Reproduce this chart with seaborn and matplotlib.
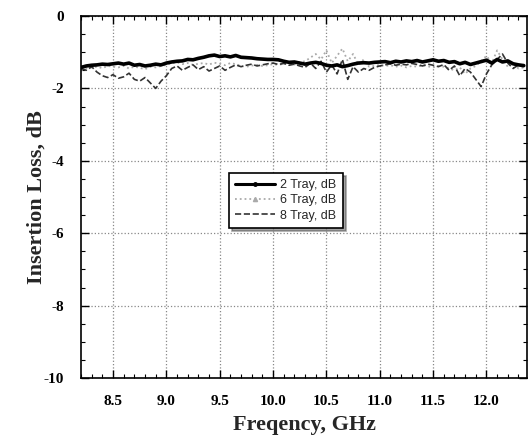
import numpy as np
import pandas as pd
import matplotlib
matplotlib.use("Agg")
import matplotlib.pyplot as plt
from matplotlib.lines import Line2D
from matplotlib.ticker import MultipleLocator
import seaborn as sns

# frequency grid, GHz
freq = np.round(np.arange(8.20, 12.351, 0.05), 2)

tray2 = [-1.42, -1.38, -1.36, -1.35, -1.33, -1.34, -1.32, -1.30, -1.33, -1.30,
         -1.36, -1.34, -1.38, -1.36, -1.33, -1.35, -1.30, -1.27, -1.25, -1.24,
         -1.20, -1.21, -1.17, -1.14, -1.10, -1.08, -1.12, -1.10, -1.13, -1.09,
         -1.14, -1.15, -1.16, -1.18, -1.19, -1.20, -1.20, -1.21, -1.25, -1.28,
         -1.27, -1.30, -1.33, -1.30, -1.28, -1.31, -1.36, -1.38, -1.35, -1.40,
         -1.37, -1.33, -1.30, -1.29, -1.30, -1.28, -1.27, -1.26, -1.29, -1.25,
         -1.27, -1.24, -1.26, -1.23, -1.27, -1.24, -1.21, -1.25, -1.23, -1.28,
         -1.26, -1.32, -1.28, -1.34, -1.30, -1.26, -1.22, -1.30, -1.20, -1.27,
         -1.24, -1.32, -1.35, -1.37]

tray6 = [-1.50, -1.45, -1.42, -1.40, -1.44, -1.38, -1.40, -1.42, -1.38, -1.45,
         -1.40, -1.43, -1.47, -1.40, -1.42, -1.38, -1.35, -1.30, -1.28, -1.33,
         -1.30, -1.35, -1.32, -1.30, -1.34, -1.29, -1.32, -1.36, -1.30, -1.33,
         -1.38, -1.40, -1.37, -1.35, -1.38, -1.36, -1.33, -1.35, -1.32, -1.30,
         -1.34, -1.28, -1.25, -1.15, -1.05, -1.20, -0.95, -1.30, -1.10, -0.90,
         -1.25, -1.05, -1.35, -1.20, -1.40, -1.38, -1.35, -1.38, -1.36, -1.40,
         -1.37, -1.42, -1.38, -1.40, -1.36, -1.39, -1.42, -1.38, -1.40, -1.45,
         -1.50, -1.42, -1.60, -1.45, -1.38, -1.25, -1.10, -1.30, -0.95, -1.20,
         -1.40, -1.30, -1.45, -1.42]

tray8 = [-1.45, -1.50, -1.40, -1.55, -1.65, -1.70, -1.62, -1.72, -1.68, -1.58,
         -1.75, -1.80, -1.70, -1.85, -2.00, -1.80, -1.65, -1.45, -1.38, -1.50,
         -1.42, -1.35, -1.48, -1.40, -1.52, -1.45, -1.38, -1.50, -1.42, -1.35,
         -1.40, -1.36, -1.33, -1.38, -1.35, -1.32, -1.30, -1.34, -1.31, -1.36,
         -1.33, -1.38, -1.42, -1.30, -1.45, -1.25, -1.55, -1.35, -1.60, -1.20,
         -1.75, -1.40, -1.55, -1.45, -1.50, -1.42, -1.38, -1.35, -1.32, -1.36,
         -1.33, -1.35, -1.31, -1.34, -1.38, -1.33, -1.36, -1.40, -1.34, -1.50,
         -1.38, -1.65, -1.45, -1.55, -1.75, -1.95, -1.60, -1.35, -1.20, -1.05,
         -1.30, -1.45, -1.35, -1.40]

labels = ["2 Tray, dB", "6 Tray, dB", "8 Tray, dB"]

sns.set_theme(style="ticks")
plt.rcParams['font.family'] = ['Liberation Serif', 'DejaVu Serif']

fig = plt.figure(figsize=(5.28, 4.45), dpi=100)
ax = fig.add_axes([81 / 528, 1 - 378 / 445, 446 / 528, 362 / 445])

sns.lineplot(x=freq, y=tray6, ax=ax, color="#aaaaaa", linestyle=":", linewidth=1.3)
sns.lineplot(x=freq, y=tray8, ax=ax, color="#333333", linestyle="--", linewidth=1.2)
sns.lineplot(x=freq, y=tray2, ax=ax, color="black", linewidth=2.6)

ax.set_xlim(8.2, 12.38)
ax.set_ylim(-10, 0)
ax.xaxis.set_minor_locator(MultipleLocator(0.1))
ax.yaxis.set_minor_locator(MultipleLocator(0.5))
ax.set_xticks([8.5, 9.0, 9.5, 10.0, 10.5, 11.0, 11.5, 12.0])
ax.set_xticklabels(["8.5", "9.0", "9.5", "10.0", "10.5", "11.0", "11.5", "12.0"])
ax.set_yticks([0, -2, -4, -6, -8, -10])
ax.set_yticklabels(["0", "-2", "-4", "-6", "-8", "-10"])
ax.tick_params(which="both", direction="in", top=True, right=True, colors="black")
ax.tick_params(which="major", length=6, width=1, labelsize=11, pad=12)
ax.tick_params(which="minor", length=3, width=0.8)
for lbl in ax.get_xticklabels() + ax.get_yticklabels():
    lbl.set_fontweight("bold")

ax.grid(True, which="major", linestyle=":", color="#888888", linewidth=0.9)
for s in ax.spines.values():
    s.set_color("black")
    s.set_linewidth(1.2)

ax.set_xlabel("Freqency, GHz", fontsize=16, fontweight="bold", labelpad=5)
ax.set_ylabel("Insertion Loss, dB", fontsize=16, fontweight="bold")
ax.yaxis.set_label_coords(-0.078, 0.5)

handles = [
    Line2D([], [], color="black", linewidth=2.2, marker=".", markersize=5),
    Line2D([], [], color="#aaaaaa", linewidth=1.3, linestyle=":", marker="^", markersize=3),
    Line2D([], [], color="#333333", linewidth=1.2, linestyle="--"),
]
leg = ax.legend(handles, labels, loc="upper left", bbox_to_anchor=(0.332, 0.566),
                borderaxespad=0, frameon=True, fancybox=False, shadow=True,
                edgecolor="black", framealpha=1, handlelength=3.2,
                prop={"family": "Liberation Sans", "size": 9}, labelspacing=0.25,
                borderpad=0.5, handletextpad=0.4)
leg.get_frame().set_linewidth(1.2)

fig.savefig("out.png", dpi=100)
